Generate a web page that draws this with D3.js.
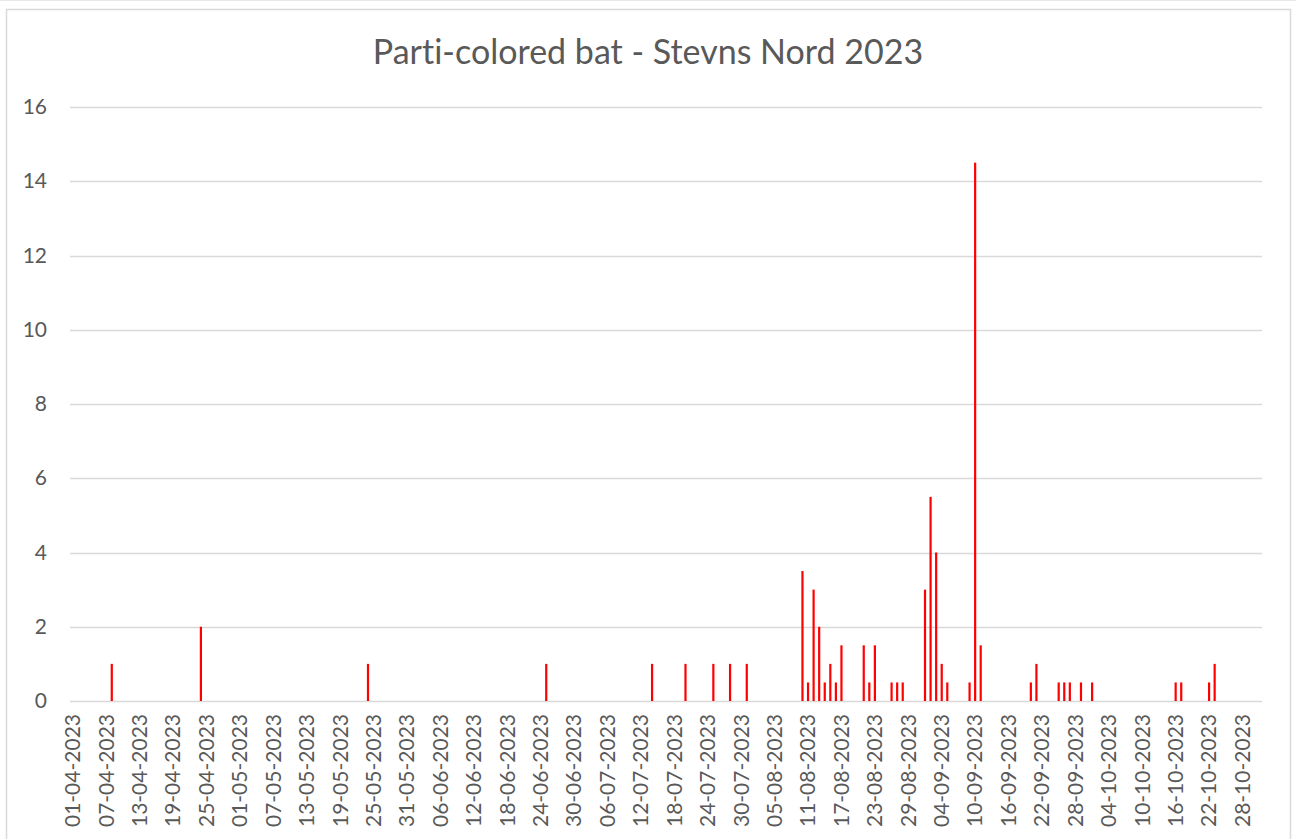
<!DOCTYPE html>
<html>
<head>
<meta charset="utf-8">
<script src="https://cdn.jsdelivr.net/npm/d3@7"></script>
<style>
  html, body { margin: 0; padding: 0; background: #ffffff; }
  svg { display: block; }
  text { font-variant-ligatures: none; font-feature-settings: "liga" 0, "dlig" 0; }
</style>
</head>
<body>
<svg id="chart" width="1296" height="839"></svg>
<script>
const title = "Parti-colored bat - Stevns Nord 2023";

const obsDates = ["2023-04-08","2023-04-24","2023-05-24","2023-06-25","2023-07-14","2023-07-20","2023-07-25","2023-07-28","2023-07-31",
  "2023-08-10","2023-08-11","2023-08-12","2023-08-13","2023-08-14","2023-08-15","2023-08-16","2023-08-17",
  "2023-08-21","2023-08-22","2023-08-23","2023-08-26","2023-08-27","2023-08-28",
  "2023-09-01","2023-09-02","2023-09-03","2023-09-04","2023-09-05","2023-09-09","2023-09-10","2023-09-11",
  "2023-09-20","2023-09-21","2023-09-25","2023-09-26","2023-09-27","2023-09-29",
  "2023-10-01","2023-10-16","2023-10-17","2023-10-22","2023-10-23"];
const obsValues = [1,2,1,1,1,1,1,1,1,
  3.5,0.5,3,2,0.5,1,0.5,1.5,
  1.5,0.5,1.5,0.5,0.5,0.5,
  3,5.5,4,1,0.5,0.5,14.5,1.5,
  0.5,1,0.5,0.5,0.5,0.5,
  0.5,0.5,0.5,0.5,1];

const xTickLabels = ["01-04-2023","07-04-2023","13-04-2023","19-04-2023","25-04-2023","01-05-2023","07-05-2023","13-05-2023",
  "19-05-2023","25-05-2023","31-05-2023","06-06-2023","12-06-2023","18-06-2023","24-06-2023","30-06-2023",
  "06-07-2023","12-07-2023","18-07-2023","24-07-2023","30-07-2023","05-08-2023","11-08-2023","17-08-2023",
  "23-08-2023","29-08-2023","04-09-2023","10-09-2023","16-09-2023","22-09-2023","28-09-2023","04-10-2023",
  "10-10-2023","16-10-2023","22-10-2023","28-10-2023"];
const yTicks = [0,2,4,6,8,10,12,14,16];

const axisStart = "2023-04-01", axisEnd = "2023-11-01";

(function () {
const parse = d3.timeParse("%Y-%m-%d");
const fmt = d3.timeFormat("%d-%m-%Y");
const data = obsDates.map((d, i) => ({ key: fmt(parse(d)), value: obsValues[i] }));
const days = d3.timeDay.range(parse(axisStart), parse(axisEnd)).map(fmt);

const svg = d3.select("#chart");
const W = 1296, H = 839;
const mLeft = 70, mRight = 1262, mTop = 107, mBottom = 701;

const textColor = "#595959", gridColor = "#d9d9d9", barColor = "#ff0000";
const font = "Lato, 'Open Sans', sans-serif";

// outer frame
svg.append("line").attr("x1", 0).attr("x2", W).attr("y1", 0.5).attr("y2", 0.5)
  .attr("stroke", "#e8e8e8").attr("stroke-width", 1);
svg.append("rect").attr("x", 6.5).attr("y", 9.5).attr("width", 1284).attr("height", H + 20)
  .attr("fill", "#ffffff").attr("stroke", gridColor).attr("stroke-width", 1.5);

const x = d3.scaleBand().domain(days).range([mLeft, mRight]).padding(0);
const y = d3.scaleLinear().domain([0, 16]).range([mBottom, mTop]);

// gridlines
svg.append("g").selectAll("line").data(yTicks).join("line")
  .attr("x1", mLeft).attr("x2", mRight)
  .attr("y1", d => Math.round(y(d)) + 0.5).attr("y2", d => Math.round(y(d)) + 0.5)
  .attr("stroke", gridColor).attr("stroke-width", 1.3);

// y axis labels
const yAxis = svg.append("g").attr("transform", `translate(${mLeft},0)`)
  .call(d3.axisLeft(y).tickValues(yTicks).tickSize(0).tickPadding(23).tickFormat(d3.format("d")));
yAxis.select(".domain").remove();
yAxis.selectAll("text").attr("fill", textColor).style("font-family", font).style("font-size", "21px");

// bars
const bw = 2.2;
svg.append("g").selectAll("rect").data(data).join("rect")
  .attr("x", d => x(d.key) + x.bandwidth() / 2 - bw / 2)
  .attr("width", bw)
  .attr("y", d => y(d.value))
  .attr("height", d => y(0) - y(d.value))
  .attr("fill", barColor);

// x axis labels
const xAxis = svg.append("g").attr("transform", `translate(0,${mBottom})`)
  .call(d3.axisBottom(x).tickValues(xTickLabels).tickSize(0));
xAxis.select(".domain").remove();
xAxis.selectAll("text")
  .attr("fill", textColor).style("font-family", font).style("font-size", "21px")
  .attr("text-anchor", "end")
  .attr("transform", "rotate(-90)")
  .attr("x", -13).attr("y", 0).attr("dy", "0.35em");

// title
svg.append("text").attr("x", 648).attr("y", 64).attr("text-anchor", "middle")
  .attr("fill", textColor).style("font-family", font).style("font-size", "34px")
  .text(title);
})();
</script>
</body>
</html>
